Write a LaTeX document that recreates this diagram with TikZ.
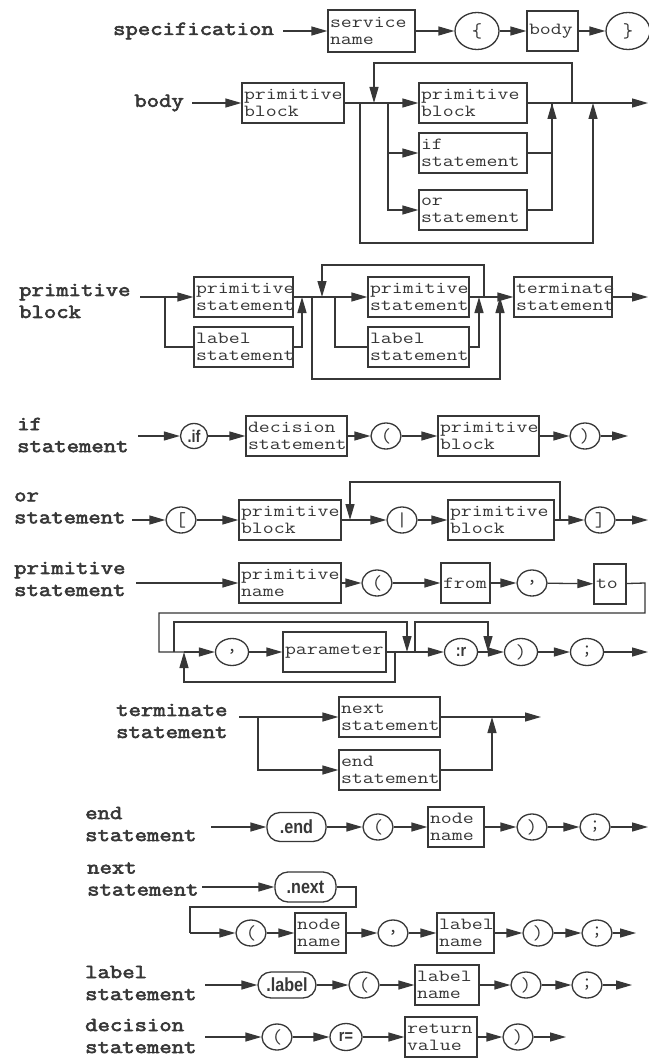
\documentclass[tikz,border=0pt]{standalone}
\usepackage{fontspec}
\usetikzlibrary{arrows.meta,shapes.geometric}
\newfontfamily\lblfont[FakeStretch=1.2,FakeBold=3]{Latin Modern Mono}
\newfontfamily\boxfont[FakeStretch=1.25]{Latin Modern Mono}
\newfontfamily\circfont{Latin Modern Mono}
\newfontfamily\kwfont[FakeStretch=0.85]{Liberation Sans}
\definecolor{ink}{RGB}{55,55,55}
\tikzset{
  ln/.style={line width=1.3pt,draw=ink},
  arr/.style={ln,-{Triangle[length=16pt,width=9pt]}},
  box/.style={draw=ink,line width=1.3pt,rectangle,align=left,inner xsep=2pt,inner ysep=0pt,
    font=\boxfont\fontsize{17}{17}\selectfont,text=ink},
  circ/.style={ellipse,draw=ink,line width=1.3pt,minimum width=30pt,minimum height=26pt,inner sep=0pt,
    font=\circfont\fontsize{20}{20}\selectfont,text=ink},
  big/.style={minimum width=44pt,minimum height=37pt},
  pc/.style={minimum width=33pt,minimum height=27pt},
  kwc/.style={font=\kwfont\bfseries\fontsize{17}{17}\selectfont},
  kw/.style={rectangle,rounded corners=13pt,draw=ink,line width=1.3pt,inner sep=0pt,
    font=\kwfont\bfseries\fontsize{19}{19}\selectfont,text=ink},
  lbl/.style={font=\lblfont\fontsize{20}{22}\selectfont,align=left,inner sep=0pt,text=ink,anchor=west},
}
\newcommand\bx[6]{%
  \pgfmathsetmacro\bw{#4-#2}\pgfmathsetmacro\bh{#5-#3}\pgfmathsetmacro\tw{#4-#2-4}%
  \node[box,minimum width=\bw pt,minimum height=\bh pt,text width=\tw pt] (#1) at ({(#2+#4)/2},{(#3+#5)/2}) {#6};}
\begin{document}
\begin{tikzpicture}[x=1pt,y=-1pt]
\fill[white] (0,0) rectangle (648,1059);
\useasboundingbox (0,0) rectangle (648,1059);

% ---------- specification
\node[lbl,anchor=east] (specL) at (274,31) {specification};
\bx{svc}{328}{10}{415}{52}{service\\name}
\node[circ,big] (lb) at (477,31) {\{};
\bx{bodyb}{527}{11}{578}{51}{body}
\node[circ,big] (rb) at (628,31) {\}};
\coordinate (s0) at (283,31);
\draw[arr] (s0) -- (svc);
\draw[arr] (svc) -- (lb);
\draw[arr] (lb) -- (bodyb);
\draw[arr] (bodyb) -- (rb);

% ---------- body
\node[lbl,anchor=east] (bodyL) at (184,103) {body};
\coordinate (bs) at (192,103);
\bx{pb0}{242}{83}{344}{123}{primitive\\block}
\coordinate (b1) at (360,103);
\coordinate (b2) at (374,103);
\coordinate (b3) at (388,103);
\bx{pb1}{419}{83}{527}{123}{primitive\\block}
\bx{ifs}{419}{133}{527}{173}{if\\statement}
\bx{ors}{419}{190}{527}{230}{or\\statement}
\coordinate (b4) at (552,103);
\coordinate (b5) at (572,103);
\coordinate (b6) at (593,103);
\coordinate (bend) at (648,103);
\coordinate (bt1) at (572,63);
\coordinate (bt2) at (374,63);
\coordinate (bb1) at (360,243);
\coordinate (bb2) at (593,243);
\draw[arr] (bs) -- (pb0);
\draw[ln] (pb0) -- (b3);
\draw[arr] (b3) -- (pb1);
\draw[arr] (b3) |- (ifs);
\draw[arr] (b3) |- (ors);
\draw[ln] (ifs) -| (b4);
\draw[arr] (ors) -| (b4);
\draw[arr] (pb1) -- (bend);
\draw[arr] (b5) -- (bt1) -- (bt2) -- (b2);
\draw[arr] (b1) -- (bb1) -- (bb2) -- (b6);

% ---------- primitive block
\node[lbl] (pbL) at (19,301) {primitive\\block};
\coordinate (ps) at (140,297);
\coordinate (p0) at (165,297);
\bx{ps1}{194}{277}{293}{317}{primitive\\statement}
\bx{ls1}{194}{327}{293}{367}{label\\statement}
\coordinate (p1) at (302,297);
\coordinate (k1) at (312,297);
\coordinate (k2) at (322,297);
\coordinate (k3) at (335,297);
\bx{ps2}{368}{277}{469}{317}{primitive\\statement}
\bx{ls2}{368}{327}{469}{367}{label\\statement}
\coordinate (p2) at (479,297);
\coordinate (k5) at (484,297);
\coordinate (k6) at (500,297);
\bx{ts}{514}{277}{612}{317}{terminate\\statement}
\coordinate (pend) at (648,297);
\coordinate (kt1) at (484,265);
\coordinate (kt2) at (322,265);
\coordinate (kb1) at (312,379);
\coordinate (kb2) at (500,379);
\draw[ln] (ps) -- (p0);
\draw[arr] (p0) -- (ps1);
\draw[ln] (p0) |- (ls1);
\draw[arr] (ls1) -| (p1);
\draw[ln] (ps1) -- (k3);
\draw[arr] (k3) -- (ps2);
\draw[ln] (k3) |- (ls2);
\draw[arr] (ls2) -| (p2);
\draw[ln] (ps2) -- (k6);
\draw[arr] (k6) -- (ts);
\draw[arr] (ts) -- (pend);
\draw[arr] (k5) -- (kt1) -- (kt2) -- (k2);
\draw[arr] (k1) -- (kb1) -- (kb2) -- (k6);

% ---------- if statement
\node[lbl] (ifL) at (17,435) {if\\statement};
\coordinate (is) at (138,436);
\node[circ,kwc,minimum width=27pt,minimum height=25pt] (ifk) at (194,436) {.if};
\bx{ds}{246}{416}{347}{456}{decision\\statement}
\node[circ] (ilp) at (386,436) {(};
\bx{ipb}{438}{416}{539}{456}{primitive\\block}
\node[circ] (irp) at (585,436) {)};
\coordinate (iend) at (628,436);
\draw[arr] (is) -- (ifk);
\draw[arr] (ifk) -- (ds);
\draw[arr] (ds) -- (ilp);
\draw[arr] (ilp) -- (ipb);
\draw[arr] (ipb) -- (irp);
\draw[arr] (irp) -- (iend);

% ---------- or statement
\node[lbl] (orL) at (14,508) {or\\statement};
\coordinate (os) at (132,520);
\node[circ] (oc1) at (181,520) {[};
\bx{opb1}{239}{500}{341}{540}{primitive\\block}
\coordinate (o1) at (350,520);
\node[circ] (oc2) at (402,520) {|};
\bx{opb2}{448}{500}{554}{540}{primitive\\block}
\coordinate (o2) at (560,520);
\node[circ] (oc3) at (600,520) {]};
\coordinate (oend) at (648,520);
\coordinate (ot1) at (560,482);
\coordinate (ot2) at (350,482);
\draw[arr] (os) -- (oc1);
\draw[arr] (oc1) -- (opb1);
\draw[arr] (opb1) -- (oc2);
\draw[arr] (oc2) -- (opb2);
\draw[arr] (opb2) -- (oc3);
\draw[arr] (oc3) -- (oend);
\draw[arr] (o2) -- (ot1) -- (ot2) -- (o1);

% ---------- primitive statement
\node[lbl] (psL) at (14,579) {primitive\\statement};
\coordinate (pss) at (136,583);
\bx{pn}{239}{563}{341}{603}{primitive\\name}
\node[circ] (plp) at (377,583) {(};
\bx{from}{441}{563}{490}{603}{from}
\node[circ] (pcm) at (532,583) {,};
\bx{to}{594}{564}{626}{604}{to}
\coordinate (w1) at (645,583);
\coordinate (w2) at (645,613);
\coordinate (w3) at (159,613);
\coordinate (q0) at (159,652);
\coordinate (q1) at (174,652);
\coordinate (q2) at (184,652);
\node[circ,pc] (qcm) at (232,652) {,};
\bx{par}{283}{632}{386}{672}{parameter}
\coordinate (q3) at (395,652);
\coordinate (q4) at (407,652);
\coordinate (q5) at (415,652);
\node[circ,pc,kwc] (rk) at (461,652) {:r};
\coordinate (q6) at (488,652);
\node[circ,pc] (qrp) at (521,652) {)};
\node[circ,pc] (qsc) at (587,652) {;};
\coordinate (qend) at (648,652);
\coordinate (qt1) at (174,622);
\coordinate (qt2) at (407,622);
\coordinate (qt3) at (415,622);
\coordinate (qt4) at (488,622);
\coordinate (qb1) at (395,682);
\coordinate (qb2) at (184,682);
\draw[arr] (pss) -- (pn);
\draw[arr] (pn) -- (plp);
\draw[arr] (plp) -- (from);
\draw[arr] (from) -- (pcm);
\draw[arr] (pcm) -- (to);
\draw[ln] (to) -- (w1) -- (w2) -- (w3) -- (q0) -- (q2);
\draw[arr] (q2) -- (qcm);
\draw[arr] (qcm) -- (par);
\draw[ln] (par) -- (q5);
\draw[arr] (q5) -- (rk);
\draw[ln] (rk) -- (q6);
\draw[arr] (q6) -- (qrp);
\draw[arr] (qrp) -- (qsc);
\draw[arr] (qsc) -- (qend);
\draw[arr] (q1) -- (qt1) -- (qt2) -- (q4);
\draw[arr] (q5) -- (qt3) -- (qt4) -- (q6);
\draw[arr] (q3) -- (qb1) -- (qb2) -- (q2);

% ---------- terminate statement
\node[lbl] (tL) at (116,721) {terminate\\statement};
\coordinate (tss) at (239,717);
\coordinate (t1) at (258,717);
\bx{ns}{339}{697}{440}{737}{next\\statement}
\bx{es}{339}{750}{440}{790}{end\\statement}
\coordinate (t2) at (492,717);
\coordinate (tend) at (541,717);
\draw[ln] (tss) -- (t1);
\draw[arr] (t1) -- (ns);
\draw[arr] (t1) |- (es);
\draw[arr] (ns) -- (tend);
\draw[arr] (es) -| (t2);

% ---------- end statement
\node[lbl] (eL) at (85,824) {end\\statement};
\coordinate (ess) at (211,827);
\node[kw,minimum width=59pt,minimum height=29pt] (endk) at (296.5,827) {.end};
\node[circ] (elp) at (378,827) {(};
\bx{enn}{428}{807}{484}{847}{node\\name}
\node[circ] (erp) at (532,827) {)};
\node[circ] (esc) at (595,827) {;};
\coordinate (eend) at (648,827);
\draw[arr] (ess) -- (endk);
\draw[arr] (endk) -- (elp);
\draw[arr] (elp) -- (enn);
\draw[arr] (enn) -- (erp);
\draw[arr] (erp) -- (esc);
\draw[arr] (esc) -- (eend);

% ---------- next statement
\node[lbl] (nL) at (87,879) {next\\statement};
\coordinate (nss) at (202,887);
\node[kw,minimum width=61pt,minimum height=30pt] (nextk) at (305.5,887) {.next};
\coordinate (n1) at (356,887);
\coordinate (n2) at (356,907);
\coordinate (n3) at (190,907);
\coordinate (n4) at (190,933);
\node[circ] (nlp) at (251,933) {(};
\bx{nnn}{295}{913}{346}{953}{node\\name}
\node[circ] (ncm) at (393,933) {,};
\bx{nln}{437}{913}{494}{953}{label\\name}
\node[circ] (nrp) at (538,933) {)};
\node[circ] (nsc) at (597,933) {;};
\coordinate (nend) at (636,933);
\draw[arr] (nss) -- (nextk);
\draw[ln] (nextk) -- (n1) -- (n2) -- (n3) -- (n4);
\draw[arr] (n4) -- (nlp);
\draw[arr] (nlp) -- (nnn);
\draw[arr] (nnn) -- (ncm);
\draw[arr] (ncm) -- (nln);
\draw[arr] (nln) -- (nrp);
\draw[arr] (nrp) -- (nsc);
\draw[arr] (nsc) -- (nend);

% ---------- label statement
\node[lbl] (lL) at (85,983) {label\\statement};
\coordinate (lss) at (205,985);
\node[kw,minimum width=58pt,minimum height=26pt] (labk) at (287,985) {.label};
\node[circ] (llp) at (364,985) {(};
\bx{lln}{415}{965}{479}{1005}{label\\name}
\node[circ] (lrp) at (526,985) {)};
\node[circ] (lsc) at (587,985) {;};
\coordinate (lend) at (632,985);
\draw[arr] (lss) -- (labk);
\draw[arr] (labk) -- (llp);
\draw[arr] (llp) -- (lln);
\draw[arr] (lln) -- (lrp);
\draw[arr] (lrp) -- (lsc);
\draw[arr] (lsc) -- (lend);

% ---------- decision statement
\node[lbl] (dL) at (85,1036) {decision\\statement};
\coordinate (dss) at (205,1037);
\node[circ] (dlp) at (277,1037) {(};
\node[circ,kwc,minimum width=32pt,minimum height=27pt] (req) at (346,1037) {r=};
\bx{rv}{405}{1017}{477}{1057}{return\\value}
\node[circ] (drp) at (518,1037) {)};
\coordinate (dend) at (566,1037);
\draw[arr] (dss) -- (dlp);
\draw[arr] (dlp) -- (req);
\draw[arr] (req) -- (rv);
\draw[arr] (rv) -- (drp);
\draw[arr] (drp) -- (dend);
\end{tikzpicture}
\end{document}
